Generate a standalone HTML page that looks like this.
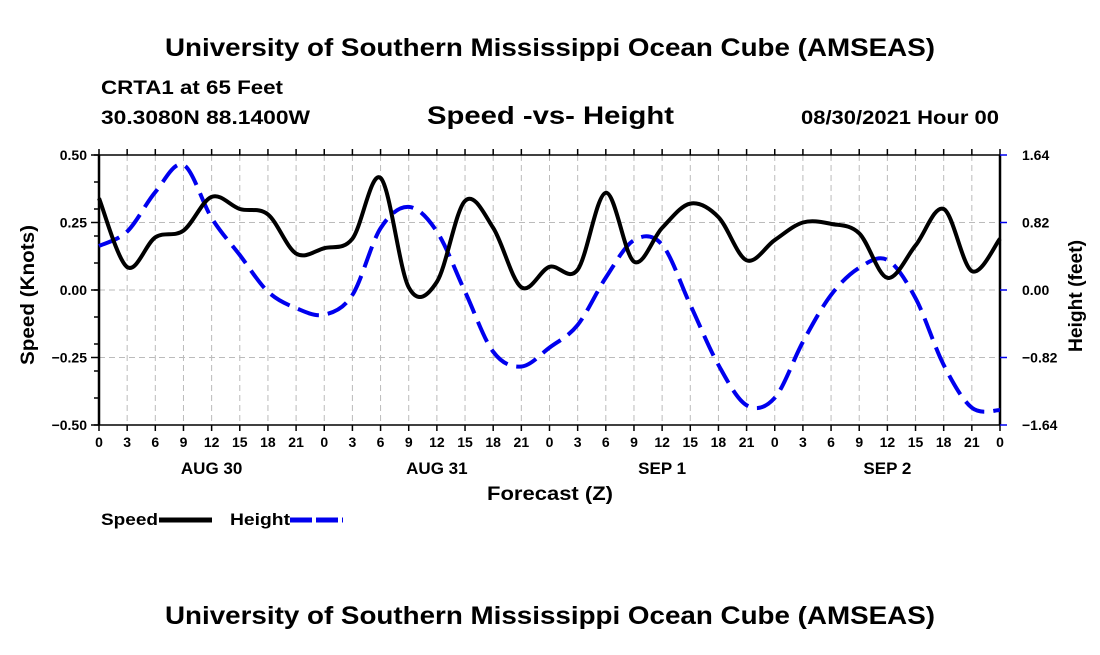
<!DOCTYPE html>
<html><head><meta charset="utf-8"><style>
body{margin:0;background:#fff;width:1100px;height:650px;overflow:hidden}
svg text{font-family:"Liberation Sans",sans-serif;font-weight:bold;fill:#000}
</style></head><body>
<svg id="chart" width="1100" height="650" xmlns="http://www.w3.org/2000/svg">
<text x="165" y="56" font-size="25" textLength="770" lengthAdjust="spacingAndGlyphs">University of Southern Mississippi Ocean Cube (AMSEAS)</text>
<text x="101" y="94" font-size="19" textLength="182" lengthAdjust="spacingAndGlyphs">CRTA1 at 65 Feet</text>
<text x="101" y="124" font-size="19" textLength="209" lengthAdjust="spacingAndGlyphs">30.3080N  88.1400W</text>
<text x="427" y="124" font-size="25" textLength="247" lengthAdjust="spacingAndGlyphs">Speed -vs- Height</text>
<text x="801" y="124" font-size="19" textLength="198" lengthAdjust="spacingAndGlyphs">08/30/2021 Hour 00</text>
<g id="grid"></g><g id="axes"></g><g id="series"></g>
<text transform="translate(34,295) rotate(-90)" font-size="19" text-anchor="middle" textLength="140" lengthAdjust="spacingAndGlyphs">Speed (Knots)</text>
<text transform="translate(1082,296) rotate(-90)" font-size="19" text-anchor="middle" textLength="112" lengthAdjust="spacingAndGlyphs">Height (feet)</text>
<text x="487" y="500" font-size="19" textLength="126" lengthAdjust="spacingAndGlyphs">Forecast (Z)</text>
<g><text x="101" y="525" font-size="17" textLength="57" lengthAdjust="spacingAndGlyphs">Speed</text><line x1="159" y1="520" x2="212" y2="520" stroke="#000" stroke-width="5"/></g>
<g><text x="230" y="525" font-size="17" textLength="60" lengthAdjust="spacingAndGlyphs">Height</text><line x1="290" y1="520" x2="343" y2="520" stroke="#0000ee" stroke-width="5" stroke-dasharray="22 4"/></g>
<text x="165" y="624" font-size="25" textLength="770" lengthAdjust="spacingAndGlyphs">University of Southern Mississippi Ocean Cube (AMSEAS)</text>
</svg>
<script>
const hours=[0,3,6,9,12,15,18,21,24,27,30,33,36,39,42,45,48,51,54,57,60,63,66,69,72,75,78,81,84,87,90,93,96];
const speed=[0.34,0.085,0.195,0.22,0.345,0.30,0.28,0.135,0.155,0.19,0.415,0.01,0.03,0.33,0.23,0.01,0.086,0.075,0.36,0.105,0.23,0.32,0.27,0.11,0.185,0.25,0.245,0.21,0.045,0.165,0.30,0.07,0.19];
const height=[0.535,0.71,1.19,1.52,0.875,0.425,-0.02,-0.22,-0.30,-0.06,0.75,1.01,0.71,-0.02,-0.75,-0.93,-0.70,-0.425,0.15,0.605,0.55,-0.18,-0.91,-1.40,-1.31,-0.63,-0.06,0.27,0.365,-0.10,-0.91,-1.43,-1.46];
const xTickLabels=["0","3","6","9","12","15","18","21","0","3","6","9","12","15","18","21","0","3","6","9","12","15","18","21","0","3","6","9","12","15","18","21","0"];
const dayLabels=["AUG 30","AUG 31","SEP 1","SEP 2"];
const dayHours=[12,36,60,84];
const yTicks=[0.5,0.25,0,-0.25,-0.5];
const yTickLabels=["0.50","0.25","0.00","\u22120.25","\u22120.50"];
const y2Ticks=[1.64,0.82,0,-0.82,-1.64];
const y2TickLabels=["1.64","0.82","0.00","\u22120.82","\u22121.64"];
const X0=99,X1=1000,Y0=155,Y1=425;
const xs=h=>X0+(h-0)/96*(X1-X0);
const ys=v=>Y0+(0.5-v)/1.0*(Y1-Y0);
const y2s=v=>Y0+(1.64-v)/3.28*(Y1-Y0);
const NS="http://www.w3.org/2000/svg";
function mk(parent,tag,attrs){const e=document.createElementNS(NS,tag);for(const k in attrs)e.setAttribute(k,attrs[k]);document.getElementById(parent).appendChild(e);return e;}
hours.forEach((h,i)=>{if(i>0&&i<hours.length-1){const g=mk('grid','line',{x1:xs(h),x2:xs(h),y1:Y0,y2:Y1,stroke:'#bbb','stroke-width':1,'stroke-dasharray':'6 4'});

}});
yTicks.forEach(v=>{if(v<0.5&&v>-0.5){const g=mk('grid','line',{x1:X0,x2:X1,y1:ys(v),y2:ys(v),stroke:'#bbb','stroke-width':1,'stroke-dasharray':'6 4'});

}});
const fr=mk('axes','rect',{x:X0,y:Y0,width:X1-X0,height:Y1-Y0,fill:'none',stroke:'#000','stroke-width':1.5});


mk('axes','line',{x1:X0,x2:X0,y1:Y0,y2:Y1,stroke:'#000','stroke-width':2.5});
mk('axes','line',{x1:X1,x2:X1,y1:Y0,y2:Y1,stroke:'#000','stroke-width':2.5});
hours.forEach((h,i)=>{
 mk('axes','line',{x1:xs(h),x2:xs(h),y1:Y1,y2:Y1+6,stroke:'#000','stroke-width':1.5});
 mk('axes','line',{x1:xs(h),x2:xs(h),y1:Y0,y2:Y0-6,stroke:'#000','stroke-width':1.5});
 const t=mk('axes','text',{x:xs(h),y:Y1+22,'font-size':14,'text-anchor':'middle'});t.textContent=xTickLabels[i];
 
 
});
dayLabels.forEach((d,i)=>{const t=mk('axes','text',{x:xs(dayHours[i]),y:474,'font-size':17,'text-anchor':'middle'});t.textContent=d;

});
for(let v=-0.5;v<=0.5001;v+=0.1){mk('axes','line',{x1:X0-5,x2:X0,y1:ys(v),y2:ys(v),stroke:'#000','stroke-width':1.5});}
yTicks.forEach((v,i)=>{mk('axes','line',{x1:X0-8,x2:X0,y1:ys(v),y2:ys(v),stroke:'#000','stroke-width':1.5});
 const t=mk('axes','text',{x:X0-12,y:ys(v)+5,'font-size':14,'text-anchor':'end'});t.textContent=yTickLabels[i];
 
 });
y2Ticks.forEach((v,i)=>{mk('axes','line',{x1:X1,x2:X1+7,y1:y2s(v),y2:y2s(v),stroke:'#0000ee','stroke-width':1.5});
 const t=mk('axes','text',{x:X1+22,y:y2s(v)+5,'font-size':14});t.textContent=y2TickLabels[i];
 
 });
function smooth(pts){let d=`M${pts[0][0]},${pts[0][1]}`;for(let i=0;i<pts.length-1;i++){const p0=pts[Math.max(0,i-1)],p1=pts[i],p2=pts[i+1],p3=pts[Math.min(pts.length-1,i+2)];
 d+=` C${p1[0]+(p2[0]-p0[0])/6},${p1[1]+(p2[1]-p0[1])/6} ${p2[0]-(p3[0]-p1[0])/6},${p2[1]-(p3[1]-p1[1])/6} ${p2[0]},${p2[1]}`;}return d;}
const hp=mk('series','path',{d:smooth(hours.map((h,i)=>[xs(h),y2s(height[i])])),fill:'none',stroke:'#0000ee','stroke-width':4,'stroke-dasharray':'22 9'});


const sp=mk('series','path',{d:smooth(hours.map((h,i)=>[xs(h),ys(speed[i])])),fill:'none',stroke:'#000','stroke-width':4});


</script>
</body></html>
